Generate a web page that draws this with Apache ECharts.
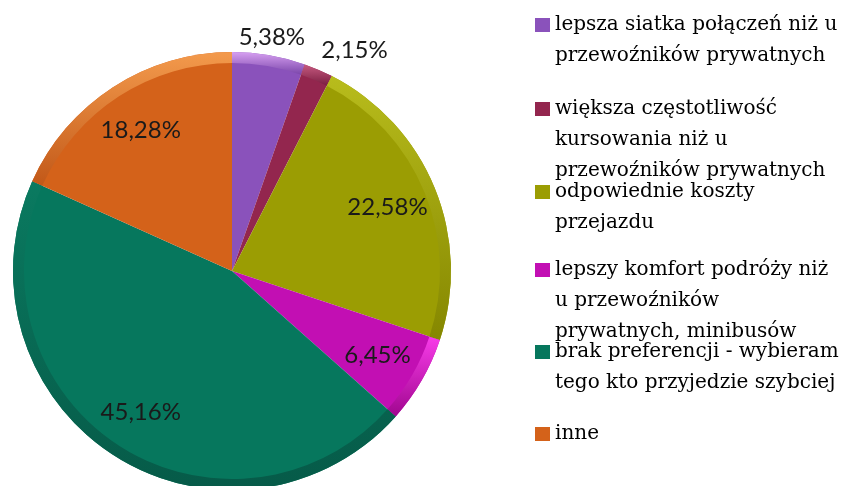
<!DOCTYPE html>
<html>
<head>
<meta charset="utf-8">
<script src="https://cdn.jsdelivr.net/npm/echarts@6/dist/echarts.min.js"></script>
<style>html,body{margin:0;padding:0;background:#fff}#c{width:844px;height:486px}</style>
</head>
<body>
<div id="c"></div>
<script>
const categories = [
  'lepsza siatka połączeń niż u przewoźników prywatnych',
  'większa częstotliwość kursowania niż u przewoźników prywatnych',
  'odpowiednie koszty przejazdu',
  'lepszy komfort podróży niż u przewoźników prywatnych, minibusów',
  'brak preferencji - wybieram tego kto przyjedzie szybciej',
  'inne'
];
const values = [5.38, 2.15, 22.58, 6.45, 45.16, 18.28];
const legendLines = [
  ['lepsza siatka połączeń niż u', 'przewoźników prywatnych'],
  ['większa częstotliwość', 'kursowania niż u', 'przewoźników prywatnych'],
  ['odpowiednie koszty', 'przejazdu'],
  ['lepszy komfort podróży niż', 'u przewoźników', 'prywatnych, minibusów'],
  ['brak preferencji - wybieram', 'tego kto przyjedzie szybciej'],
  ['inne']
];
const labelPlacement = ['outer', 'outer', 'inner', 'inner', 'inner', 'inner'];

const baseColors = ['#8a52bb', '#93264e', '#9b9d03', '#c20fb3', '#06775d', '#d4621a'];
const rimLight  = ['#d7a0f1', '#c65a80', '#b8bc1c', '#f83ce9', '#0a7a60', '#f39a4c'];
const rimDark   = ['#7a45aa', '#7a1d40', '#858700', '#a0068f', '#065a48', '#c25818'];

const chart = echarts.init(document.getElementById('c'), null, {renderer: 'canvas'});
const center = [232, 271];
const R = 219;
const fmt = v => v.toFixed(2).replace('.', ',') + '%';

const mainData = categories.map((n, i) => ({name: n, value: values[i]}));
const rimData = categories.map((n, i) => ({
  name: n, value: values[i],
  itemStyle: {color: new echarts.graphic.LinearGradient(0, 0, 0, 1, [
    {offset: 0, color: rimLight[i]}, {offset: 1, color: rimDark[i]}])}
}));
const innerLabelData = categories.map((n, i) => ({
  name: n, value: values[i],
  label: {show: labelPlacement[i] === 'inner'}
}));
const outerLabelData = categories.map((n, i) => ({
  name: n, value: values[i],
  label: {show: labelPlacement[i] === 'outer', offset: i === 1 ? [29, -3] : [0, 0]}
}));

const LH = 31;
const iconCenters = [25, 109, 192, 270, 352, 434];
const legends = categories.map((n, i) => {
  const k = legendLines[i].length;
  return {
    data: [n],
    orient: 'vertical',
    left: 535,
    top: iconCenters[i] - (2 * k - 1) * LH / 2,
    padding: 0,
    itemWidth: 15,
    itemHeight: 14,
    itemGap: 0,
    icon: 'rect',
    selectedMode: false,
    formatter: () => '\n'.repeat(k - 1) + legendLines[i].join('\n'),
    textStyle: {fontFamily: 'DejaVu Serif', fontSize: 20, lineHeight: LH, color: '#000'}
  };
});

const labelStyle = {
  formatter: p => fmt(p.value),
  fontFamily: 'Lato', fontSize: 24, color: '#1a1a1a'
};

chart.setOption({
  animation: false,
  color: baseColors,
  legend: legends,
  series: [
    {
      type: 'pie', center: center, radius: [0, R], startAngle: 90, clockwise: true,
      data: mainData, label: {show: false}, labelLine: {show: false},
      emphasis: {disabled: true}, silent: true
    },
    {
      type: 'pie', center: center, radius: [R - 11, R], startAngle: 90, clockwise: true,
      data: rimData, label: {show: false}, labelLine: {show: false},
      emphasis: {disabled: true}, silent: true
    },
    {
      type: 'pie', center: center, radius: [111, R], startAngle: 90, clockwise: true,
      data: innerLabelData, itemStyle: {color: 'rgba(0,0,0,0)'},
      label: Object.assign({position: 'inside'}, labelStyle), labelLine: {show: false},
      emphasis: {disabled: true}, silent: true
    },
    {
      type: 'pie', center: center, radius: [R, 249], startAngle: 90, clockwise: true,
      data: outerLabelData, itemStyle: {color: 'rgba(0,0,0,0)'},
      label: Object.assign({position: 'inside'}, labelStyle), labelLine: {show: false},
      emphasis: {disabled: true}, silent: true
    }
  ]
});
</script>
</body>
</html>
